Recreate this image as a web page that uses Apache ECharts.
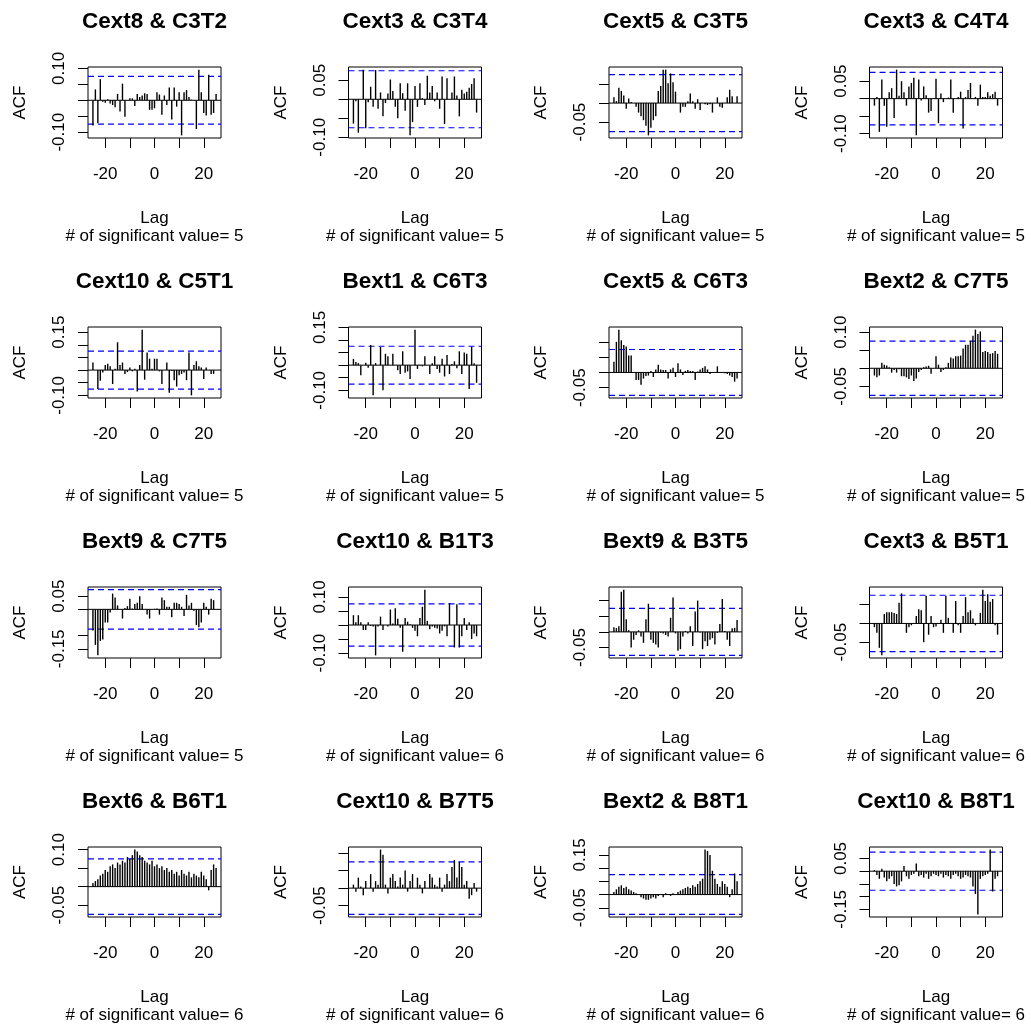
<!DOCTYPE html>
<html>
<head>
<meta charset="utf-8">
<title>Cross-correlation panels</title>
<script src="https://cdn.jsdelivr.net/npm/echarts@6/dist/echarts.min.js"></script>
<style>
  html, body { margin: 0; padding: 0; background: #ffffff; }
  #chart { width: 1031px; height: 1025px; }
</style>
</head>
<body>
<div id="chart"></div>
<script>
// Lags shared by every panel
const lags = [-25, -24, -23, -22, -21, -20, -19, -18, -17, -16, -15, -14, -13, -12, -11, -10, -9, -8, -7, -6, -5, -4, -3, -2, -1,
  0, 1, 2, 3, 4, 5, 6, 7, 8, 9, 10, 11, 12, 13, 14, 15, 16, 17, 18, 19, 20, 21, 22, 23, 24, 25];

// Panel titles (row by row)
const panelTitles = [
  'Cext8 & C3T2', 'Cext3 & C3T4', 'Cext5 & C3T5', 'Cext3 & C4T4',
  'Cext10 & C5T1', 'Bext1 & C6T3', 'Cext5 & C6T3', 'Bext2 & C7T5',
  'Bext9 & C7T5', 'Cext10 & B1T3', 'Bext9 & B3T5', 'Cext3 & B5T1',
  'Bext6 & B6T1', 'Cext10 & B7T5', 'Bext2 & B8T1', 'Cext10 & B8T1'
];

// Number of significant values printed under each panel
const significantCounts = [5, 5, 5, 5, 5, 5, 5, 5, 5, 6, 6, 6, 6, 6, 6, 6];

// 95% confidence bound drawn as the blue dashed lines
const confBound = 0.075;

// Y tick labels that are printed on each panel's axis
const yTickLabels = [
  [0.10, -0.10], [0.05, -0.10], [-0.05], [0.05, -0.10],
  [0.15, -0.10], [0.15, -0.10], [-0.05], [0.10, -0.05],
  [0.05, -0.05, -0.15], [0.10, -0.10], [-0.05], [-0.05],
  [0.10, -0.05], [-0.05], [0.15, -0.05], [0.05, -0.15]
];

// X tick marks and printed x labels
const xTicks = [-20, -10, 0, 10, 20];
const xTickLabels = [-20, 0, 20];

// Cross-correlation values, lag -25 .. 25
const ccf_Cext8_C3T2 = [-0.079, 0.034, -0.072, 0.066, -0.005, -0.008, 0.003, -0.010, -0.015, -0.022, 0.020, -0.035, 0.052,
  -0.052, 0.000, 0.006, 0.006, -0.018, 0.020, 0.010, 0.015, 0.022, 0.020, -0.030, -0.030, -0.025, 0.025, 0.018, -0.045,
  0.015, -0.015, 0.040, -0.060, 0.040, -0.020, 0.025, -0.110, 0.025, 0.032, 0.010, 0.002, 0.001, -0.090, 0.096, 0.025,
  -0.040, -0.048, 0.080, -0.045, -0.040, 0.020];
const ccf_Cext3_C3T4 = [-0.064, -0.005, -0.088, 0.000, 0.078, -0.076, -0.008, 0.033, -0.020, 0.077, -0.025, 0.018, -0.045,
  -0.010, 0.015, 0.052, 0.022, -0.020, -0.050, 0.042, 0.016, -0.030, 0.042, -0.095, -0.060, 0.035, -0.020, 0.042, 0.003,
  -0.015, 0.062, 0.018, 0.035, -0.005, 0.018, -0.025, 0.060, -0.065, 0.055, 0.000, 0.018, 0.060, 0.010, -0.045, 0.025,
  0.015, 0.020, 0.030, 0.040, 0.055, -0.035];
const ccf_Cext5_C3T5 = [0.015, 0.005, 0.040, 0.032, 0.020, -0.015, 0.012, 0.003, 0.000, -0.010, -0.025, -0.035, -0.045,
  -0.060, -0.085, -0.065, -0.045, -0.035, 0.032, 0.045, 0.088, 0.088, 0.052, 0.078, 0.055, 0.030, 0.000, -0.025, -0.010,
  -0.010, 0.005, 0.025, 0.005, -0.015, 0.010, -0.018, 0.000, -0.003, -0.005, -0.003, -0.025, 0.000, 0.015, -0.010, -0.012,
  0.000, 0.015, 0.035, 0.018, 0.000, 0.018];
const ccf_Cext3_C4T4 = [-0.020, 0.005, -0.095, 0.055, -0.020, -0.080, 0.018, 0.030, -0.055, 0.083, 0.008, 0.050, 0.018,
  -0.020, 0.035, 0.045, 0.060, -0.105, 0.055, -0.005, 0.035, 0.010, -0.040, -0.035, 0.000, 0.057, -0.070, 0.015, -0.010,
  0.000, 0.003, 0.055, -0.040, 0.000, 0.005, 0.020, -0.085, 0.005, 0.025, 0.045, 0.000, 0.005, -0.020, 0.040, 0.005,
  0.005, 0.018, 0.008, 0.013, 0.020, -0.020];
const ccf_Cext10_C5T1 = [0.030, 0.000, -0.075, -0.042, -0.010, 0.020, 0.025, 0.015, -0.055, 0.005, 0.110, 0.020, 0.030,
  -0.015, -0.008, 0.010, -0.005, 0.005, -0.085, 0.020, 0.160, -0.038, 0.070, 0.045, 0.005, 0.045, 0.045, -0.005, -0.055,
  0.000, 0.030, -0.090, -0.003, -0.040, -0.065, -0.020, -0.015, -0.010, -0.040, 0.070, -0.100, 0.020, 0.035, 0.015, 0.010,
  -0.035, 0.010, 0.000, -0.015, -0.015, 0.000];
const ccf_Bext1_C6T3 = [0.025, 0.012, 0.008, -0.040, 0.000, 0.010, -0.010, 0.080, -0.120, 0.008, 0.000, 0.072, -0.100,
  0.045, 0.035, 0.000, 0.045, 0.000, -0.020, -0.035, 0.055, -0.030, -0.025, -0.055, 0.000, 0.141, -0.015, 0.002, -0.005,
  0.035, 0.000, -0.035, 0.008, 0.035, -0.015, -0.030, 0.025, -0.045, 0.040, -0.035, 0.005, 0.015, -0.012, 0.055, -0.035,
  0.050, 0.045, -0.095, 0.073, 0.008, -0.070];
const ccf_Cext5_C6T3 = [0.035, 0.100, 0.140, 0.105, 0.090, 0.085, 0.055, 0.055, 0.000, -0.025, -0.025, -0.040, -0.020,
  -0.012, -0.010, 0.005, -0.015, 0.010, 0.025, 0.010, 0.008, 0.008, -0.020, 0.010, 0.015, -0.015, 0.030, 0.010, -0.008,
  0.005, 0.008, 0.005, 0.005, -0.025, 0.003, 0.010, 0.015, 0.020, 0.010, -0.005, 0.000, 0.000, 0.020, 0.000, 0.000,
  -0.003, -0.005, -0.010, -0.015, -0.030, -0.020];
const ccf_Bext2_C7T5 = [-0.020, -0.025, -0.020, 0.015, 0.010, 0.008, 0.003, -0.012, -0.005, -0.012, -0.003, -0.022, -0.022,
  -0.025, -0.030, -0.020, -0.035, -0.028, -0.010, -0.005, 0.003, 0.005, 0.007, -0.015, 0.000, 0.033, 0.010, -0.010, -0.005,
  0.003, 0.015, 0.030, 0.027, 0.033, 0.033, 0.035, 0.055, 0.065, 0.065, 0.076, 0.090, 0.107, 0.095, 0.102, 0.045,
  0.048, 0.045, 0.040, 0.042, 0.048, 0.040];
const ccf_Bext9_C7T5 = [-0.080, -0.135, -0.175, -0.120, -0.115, -0.050, -0.050, -0.012, 0.060, 0.045, 0.015, 0.000, -0.035,
  0.005, 0.012, 0.040, 0.003, 0.020, 0.025, 0.050, 0.020, 0.000, -0.020, -0.035, 0.000, 0.002, 0.003, -0.020, 0.045,
  0.035, 0.010, 0.010, -0.030, 0.025, 0.025, 0.020, 0.010, -0.025, 0.055, 0.015, 0.025, -0.005, -0.060, -0.068, -0.050,
  0.025, 0.010, -0.020, 0.040, 0.035, 0.000];
const ccf_Cext10_B1T3 = [0.035, 0.010, 0.035, 0.010, -0.018, -0.018, 0.010, -0.003, -0.005, -0.108, -0.005, 0.030, -0.018,
  0.000, -0.005, 0.055, 0.005, 0.060, 0.022, -0.010, -0.095, 0.025, 0.012, 0.003, -0.010, -0.020, -0.040, 0.025, 0.065,
  0.126, 0.015, -0.015, -0.005, -0.010, -0.012, -0.030, -0.020, -0.005, -0.040, 0.078, 0.000, -0.080, 0.074, -0.080, -0.040,
  0.025, -0.018, 0.010, -0.050, -0.030, -0.040];
const ccf_Bext9_B3T5 = [0.015, 0.012, 0.018, 0.128, 0.135, 0.040, 0.005, -0.050, -0.025, -0.010, 0.005, -0.015, -0.035,
  0.040, 0.090, -0.025, -0.035, -0.040, -0.050, -0.003, -0.005, -0.010, -0.015, 0.045, 0.110, -0.005, -0.060, -0.055, -0.015,
  0.003, -0.005, 0.018, -0.045, 0.065, 0.100, -0.002, -0.055, -0.030, -0.045, -0.025, -0.020, -0.040, -0.003, 0.025, 0.105,
  0.003, -0.025, -0.045, 0.012, 0.013, 0.038];
const ccf_Cext3_B5T1 = [-0.010, -0.025, -0.065, -0.085, 0.025, 0.030, 0.030, 0.030, 0.028, 0.025, 0.055, 0.080, 0.000,
  -0.025, -0.010, -0.005, 0.000, 0.020, 0.038, 0.035, -0.050, 0.074, -0.030, 0.020, -0.010, -0.008, 0.000, 0.010, -0.025,
  0.074, 0.015, 0.000, -0.025, 0.060, -0.005, -0.025, 0.020, 0.070, 0.030, 0.035, 0.013, -0.005, 0.000, 0.028, 0.090,
  0.060, 0.078, 0.058, 0.065, -0.005, -0.030];
const ccf_Bext6_B6T1 = [0.010, 0.015, 0.020, 0.030, 0.035, 0.045, 0.040, 0.055, 0.060, 0.050, 0.065, 0.060, 0.070,
  0.065, 0.080, 0.075, 0.085, 0.100, 0.095, 0.085, 0.080, 0.070, 0.065, 0.060, 0.070, 0.055, 0.060, 0.050, 0.055,
  0.045, 0.050, 0.040, 0.045, 0.035, 0.040, 0.030, 0.045, 0.035, 0.030, 0.040, 0.025, 0.035, 0.030, 0.025, 0.040,
  0.030, 0.020, -0.010, 0.045, 0.060, 0.050];
const ccf_Cext10_B7T5 = [0.010, -0.010, 0.030, 0.005, -0.020, 0.020, 0.000, 0.040, -0.010, 0.020, 0.010, 0.110, 0.095,
  0.010, -0.015, 0.030, 0.040, 0.020, 0.005, 0.030, 0.010, 0.050, -0.010, 0.020, 0.040, 0.000, 0.030, 0.010, -0.015,
  0.020, 0.000, 0.040, 0.030, 0.010, 0.005, 0.030, -0.010, 0.010, 0.040, 0.020, 0.060, 0.080, 0.030, 0.075, 0.060,
  0.010, 0.020, -0.030, -0.020, 0.015, -0.010];
const ccf_Bext2_B8T1 = [0.010, 0.020, 0.030, 0.035, 0.025, 0.030, 0.020, 0.015, 0.010, 0.005, 0.000, -0.010, -0.015,
  -0.020, -0.020, -0.015, -0.010, -0.015, -0.005, 0.000, -0.010, 0.005, 0.000, -0.005, 0.005, 0.000, 0.010, 0.015, 0.020,
  0.025, 0.030, 0.025, 0.035, 0.030, 0.040, 0.050, 0.060, 0.170, 0.165, 0.150, 0.090, 0.060, 0.040, 0.030, 0.050,
  0.040, 0.030, -0.010, 0.020, 0.080, 0.050];
const ccf_Cext10_B8T1 = [0.005, -0.015, -0.030, 0.010, -0.025, -0.040, -0.030, -0.020, -0.050, -0.060, -0.055, -0.040, 0.020,
  -0.020, -0.030, -0.015, -0.010, 0.030, -0.020, -0.015, -0.025, -0.010, -0.030, -0.020, -0.010, -0.015, -0.020, -0.010, -0.025,
  -0.015, -0.020, -0.030, -0.015, -0.010, -0.020, -0.030, -0.025, -0.015, -0.020, -0.025, -0.060, -0.090, -0.170, -0.030, -0.020,
  -0.015, -0.010, 0.085, -0.080, -0.030, -0.020];

const panelValues = [
  ccf_Cext8_C3T2, ccf_Cext3_C3T4, ccf_Cext5_C3T5, ccf_Cext3_C4T4,
  ccf_Cext10_C5T1, ccf_Bext1_C6T3, ccf_Cext5_C6T3, ccf_Bext2_C7T5,
  ccf_Bext9_C7T5, ccf_Cext10_B1T3, ccf_Bext9_B3T5, ccf_Cext3_B5T1,
  ccf_Bext6_B6T1, ccf_Cext10_B7T5, ccf_Bext2_B8T1, ccf_Cext10_B8T1
];

// ---- layout of the 4 x 4 grid of plot boxes ----
const FONT = '"Liberation Sans", Arial, Helvetica, sans-serif';
const BOX_LEFT = 88, BOX_TOP = 67, COL_STEP = 260.5, ROW_STEP = 260;
const BOX_W = 133, BOX_H = 71;
const LAG_MIN = -27, LAG_MAX = 27;

// y range as R sets it: range of the data and bounds, padded by 4%
function yRange(vals) {
  const lo = Math.min(-confBound, ...vals);
  const hi = Math.max(confBound, ...vals);
  const pad = (hi - lo) * 0.04;
  return [lo - pad, hi + pad];
}
function yTicks(lo, hi) {
  const out = [];
  for (let k = Math.ceil(lo / 0.05 - 1e-9); k * 0.05 <= hi + 1e-9; k++) out.push(+(k * 0.05).toFixed(2));
  return out;
}

// vertical stem from 0 to the value at each lag
function renderStem(params, api) {
  const lag = api.value(0);
  const v = api.value(1);
  const p0 = api.coord([lag, 0]);
  const p1 = api.coord([lag, v]);
  return {
    type: 'line',
    shape: { x1: p0[0], y1: p0[1], x2: p1[0], y2: p1[1] },
    style: { stroke: '#000000', lineWidth: 1.4 }
  };
}

// horizontal reference line across the whole box
function hLine(i, y, color, dashed) {
  return {
    type: 'line', xAxisIndex: i, yAxisIndex: i,
    data: [[LAG_MIN, y], [LAG_MAX, y]],
    symbol: 'none', silent: true, animation: false,
    lineStyle: { color: color, width: dashed ? 1.2 : 1, type: dashed ? [6, 4] : 'solid' },
    z: 1
  };
}

const grids = [], xAxes = [], yAxes = [], series = [], graphics = [];

panelValues.forEach((vals, i) => {
  const r = Math.floor(i / 4), c = i % 4;
  const left = BOX_LEFT + COL_STEP * c;
  const top = BOX_TOP + ROW_STEP * r;
  const [lo, hi] = yRange(vals);

  grids.push({
    left: left, top: top, width: BOX_W, height: BOX_H,
    show: true, borderColor: '#000000', borderWidth: 1, backgroundColor: 'transparent',
    containLabel: false
  });

  xAxes.push({
    type: 'value', gridIndex: i, min: LAG_MIN, max: LAG_MAX,
    position: 'bottom',
    axisLine: { show: false, onZero: false },
    splitLine: { show: false },
    axisTick: { show: true, length: 10, inside: false, customValues: xTicks, lineStyle: { color: '#000000', width: 1 } },
    axisLabel: {
      show: true, customValues: xTickLabels, margin: 28, fontSize: 17, color: '#000000', fontFamily: FONT,
      showMinLabel: true, showMaxLabel: true, hideOverlap: false
    },
    name: 'Lag\n# of significant value= ' + significantCounts[i],
    nameLocation: 'middle', nameGap: 71,
    nameTextStyle: { fontSize: 17, lineHeight: 18, color: '#000000', fontFamily: FONT, align: 'center' }
  });

  yAxes.push({
    type: 'value', gridIndex: i, min: lo, max: hi,
    position: 'left',
    axisLine: { show: false, onZero: false },
    splitLine: { show: false },
    axisTick: { show: true, length: 10, inside: false, customValues: yTicks(lo, hi), lineStyle: { color: '#000000', width: 1 } },
    axisLabel: {
      show: true, customValues: yTickLabels[i], rotate: 90, margin: 20,
      fontSize: 17, color: '#000000', fontFamily: FONT,
      showMinLabel: true, showMaxLabel: true, hideOverlap: false,
      formatter: v => v.toFixed(2)
    },
    name: 'ACF', nameLocation: 'middle', nameGap: 59, nameRotate: 90,
    nameTextStyle: { fontSize: 17, color: '#000000', fontFamily: FONT }
  });

  series.push(hLine(i, 0, '#000000', false));
  series.push(hLine(i, confBound, '#0000ff', true));
  series.push(hLine(i, -confBound, '#0000ff', true));
  series.push({
    type: 'custom', xAxisIndex: i, yAxisIndex: i,
    data: lags.map((l, k) => [l, vals[k]]),
    renderItem: renderStem,
    silent: true, animation: false, z: 2
  });

  graphics.push({
    type: 'text', x: left + BOX_W / 2, y: top - 45,
    style: {
      text: panelTitles[i], fill: '#000000',
      font: 'bold 22.5px ' + FONT,
      align: 'center', verticalAlign: 'middle',
      textAlign: 'center', textVerticalAlign: 'middle'
    },
    silent: true
  });
});

const chart = echarts.init(document.getElementById('chart'), null, { renderer: 'canvas' });
chart.setOption({
  animation: false,
  backgroundColor: '#ffffff',
  grid: grids,
  xAxis: xAxes,
  yAxis: yAxes,
  series: series,
  graphic: graphics
});
</script>
</body>
</html>
